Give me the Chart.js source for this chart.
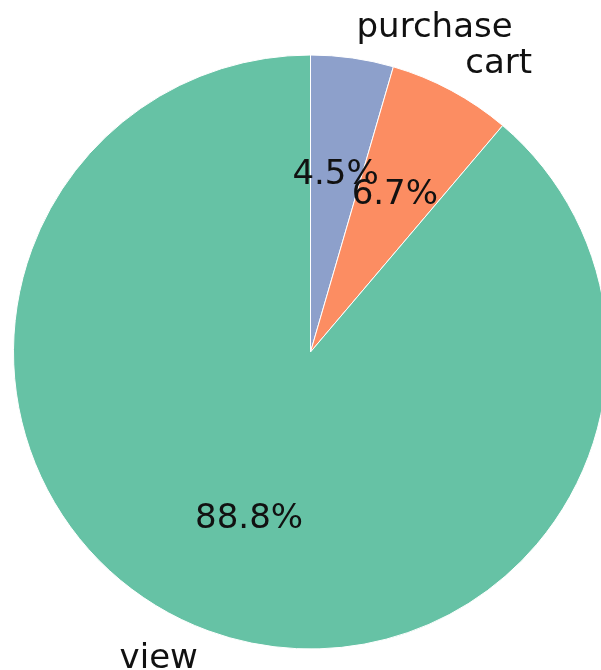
<!DOCTYPE html>
<html>
<head>
<meta charset="utf-8">
<script src="https://cdn.jsdelivr.net/npm/chart.js@4/dist/chart.umd.min.js"></script>
<style>
  html, body { margin: 0; padding: 0; background: #ffffff; overflow: hidden; }
  #wrap { width: 622px; height: 670px; }
</style>
</head>
<body>
<div id="wrap"><canvas id="pie" width="622" height="670"></canvas></div>
<script>
// Event types and their share of all events
const categories = ['purchase', 'cart', 'view'];
const shares = [4.5, 6.7, 88.8];
const sliceColors = ['#8da0cb', '#fc8d62', '#66c2a5'];

const FONT_SIZE = 34;
const FONT = FONT_SIZE + 'px "DejaVu Sans", sans-serif';

// Category names outside each wedge and percentages inside it
const pieLabels = {
  id: 'pieLabels',
  afterDatasetsDraw(chart) {
    const ctx = chart.ctx;
    const meta = chart.getDatasetMeta(0);
    const values = chart.data.datasets[0].data;
    const total = values.reduce((a, b) => a + b, 0);
    ctx.save();
    ctx.font = FONT;
    ctx.fillStyle = '#111111';
    ctx.textBaseline = 'alphabetic';
    const shift = 0.262 * FONT_SIZE; // centre of text box relative to baseline
    meta.data.forEach((arc, i) => {
      const p = arc.getProps(['x', 'y', 'startAngle', 'endAngle', 'outerRadius'], true);
      const mid = (p.startAngle + p.endAngle) / 2;
      const c = Math.cos(mid), s = Math.sin(mid);
      // name at 1.1 radius
      const lx = p.x + c * p.outerRadius * 1.1;
      const ly = p.y + s * p.outerRadius * 1.1;
      ctx.textAlign = c > 0 ? 'left' : 'right';
      ctx.fillText(chart.data.labels[i], lx, ly + shift);
      // percentage at 0.6 radius
      const px = p.x + c * p.outerRadius * 0.6;
      const py = p.y + s * p.outerRadius * 0.6;
      ctx.textAlign = 'center';
      ctx.fillText((values[i] / total * 100).toFixed(1) + '%', px, py + shift);
    });
    ctx.restore();
  }
};

new Chart(document.getElementById('pie'), {
  type: 'pie',
  data: {
    labels: categories,
    datasets: [{
      data: shares,
      backgroundColor: sliceColors,
      borderColor: '#ffffff',
      borderWidth: 1
    }]
  },
  options: {
    responsive: false,
    animation: false,
    events: [],
    layout: { padding: { left: 13, right: 14, top: 54.5, bottom: 20.5 } },
    plugins: {
      legend: { display: false },
      tooltip: { enabled: false },
      title: { display: false }
    }
  },
  plugins: [pieLabels]
});
</script>
</body>
</html>
